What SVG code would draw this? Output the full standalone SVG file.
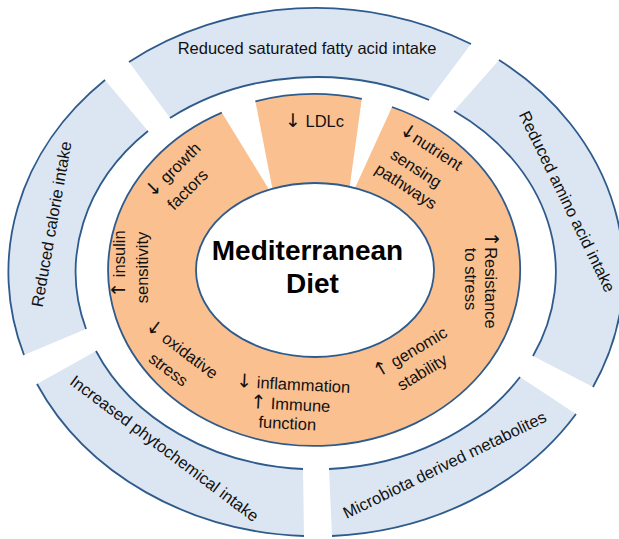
<svg xmlns="http://www.w3.org/2000/svg" width="619" height="539" viewBox="0 0 619 539">
<style>
.blue{fill:#DCE6F2;stroke:none}
.orng{fill:#FAC090;stroke:none}
.edge{fill:none;stroke:#2E5B8C;stroke-width:1.8}
.t{font-family:"Liberation Sans",Arial,sans-serif;font-size:16.5px;fill:#111}
.c{text-anchor:middle}
.ar{font-family:"DejaVu Sans",sans-serif;font-size:19px}
.big{font-family:"Liberation Sans",Arial,sans-serif;font-size:28px;font-weight:bold;fill:#000;text-anchor:middle}
</style>
<rect width="619" height="539" fill="#fff"/>
<g id="seg-fatty">
<path class="blue" d="M129,62 A308,264 0 0 1 471,44 L429,100 A240,197 0 0 0 170,118 Z"/>
<path class="edge" d="M129,62 A308,264 0 0 1 471,44"/>
<path class="edge" d="M170,118 A240,197 0 0 1 429,100"/>
<text class="t c" x="307" y="54">Reduced saturated fatty acid intake</text>
</g>
<g id="seg-amino">
<path class="blue" d="M499,60 A308,264 0 0 1 593,387 L533,356 A240,197 0 0 0 454,111 Z"/>
<path class="edge" d="M499,60 A308,264 0 0 1 593,387"/>
<path class="edge" d="M454,111 A240,197 0 0 1 533,356"/>
<text class="t c" transform="translate(562,204) rotate(64)">Reduced amino acid intake</text>
</g>
<g id="seg-microbiota">
<path class="blue" d="M576,414 A308,264 0 0 1 332,536 L329,469 A240,197 0 0 0 520,377 Z"/>
<path class="edge" d="M576,414 A308,264 0 0 1 332,536"/>
<path class="edge" d="M329,469 A240,197 0 0 0 520,377"/>
<text class="t c" transform="translate(447,470) rotate(-26)">Microbiota derived metabolites</text>
</g>
<g id="seg-phyto">
<path class="blue" d="M304,536 A308,264 0 0 1 37,384 L96,351 A240,197 0 0 0 303,469 Z"/>
<path class="edge" d="M304,536 A308,264 0 0 1 37,384"/>
<path class="edge" d="M96,351 A240,197 0 0 0 303,469"/>
<text class="t c" transform="translate(161,453) rotate(37)">Increased phytochemical intake</text>
</g>
<g id="seg-calorie">
<path class="blue" d="M24,355 A308,264 0 0 1 105,80 L148,131 A240,197 0 0 0 86,329 Z"/>
<path class="edge" d="M24,355 A308,264 0 0 1 105,80"/>
<path class="edge" d="M148,131 A240,197 0 0 0 86,329"/>
<text class="t c" transform="translate(57,225) rotate(-80)">Reduced calorie intake</text>
</g>
<g id="ring-effects">
<path class="orng" d="M392,107 A206,176 0 1 1 221.8,112.6 L275.4,200 L315,270 L351.8,195 Z"/>
<path class="edge" d="M392,107 A206,176 0 1 1 221.8,112.6"/>
<text class="t c" transform="translate(428,152) rotate(33)"><tspan class="ar">↓</tspan>nutrient</text>
<text class="t c" transform="translate(413,173) rotate(33)">sensing</text>
<text class="t c" transform="translate(403,191) rotate(33)">pathways</text>
<text class="t c" transform="translate(485,280) rotate(90)"><tspan class="ar">↑</tspan>Resistance</text>
<text class="t c" transform="translate(465,279) rotate(90)">to stress</text>
<text class="t c" transform="translate(413,357) rotate(-31)"><tspan class="ar">↑</tspan> genomic</text>
<text class="t c" transform="translate(425,377) rotate(-31)">stability</text>
<text class="t c" transform="translate(293,390) rotate(3)"><tspan class="ar">↓</tspan> inflammation</text>
<text class="t c" transform="translate(290,410) rotate(3)"><tspan class="ar">↑</tspan> Immune</text>
<text class="t c" transform="translate(287,429) rotate(3)">function</text>
<text class="t c" transform="translate(178.5,354) rotate(37)"><tspan class="ar">↓</tspan> oxidative</text>
<text class="t c" transform="translate(165,374) rotate(37)">stress</text>
<text class="t c" transform="translate(125,264) rotate(-90)"><tspan class="ar">↑</tspan> insulin</text>
<text class="t c" transform="translate(148,267.5) rotate(-90)">sensitivity</text>
<text class="t c" transform="translate(177,174) rotate(-45)"><tspan class="ar">↓</tspan> growth</text>
<text class="t c" transform="translate(191.5,193.5) rotate(-45)">factors</text>
</g>
<g id="seg-ldlc">
<path class="orng" d="M255.4,101.3 A206,176 0 0 1 361.8,98.8 L347.6,202 L275.4,204 Z"/>
<path class="edge" d="M255.4,101.3 A206,176 0 0 1 361.8,98.8"/>
<text class="t c" x="314.5" y="127"><tspan class="ar">↓</tspan> LDLc</text>
</g>
<g id="center">
<ellipse cx="315" cy="270" rx="119" ry="87" fill="#fff" stroke="#2E5B8C" stroke-width="1.8"/>
<text class="big" x="307.5" y="260">Mediterranean</text>
<text class="big" x="312.5" y="293">Diet</text>
</g>
<g id="connectors"/>
</svg>
